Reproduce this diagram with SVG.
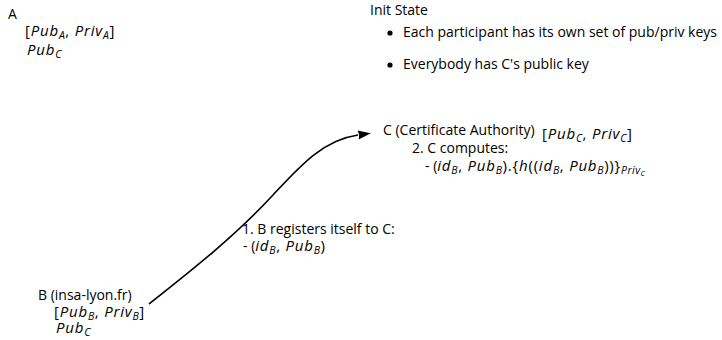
<svg xmlns="http://www.w3.org/2000/svg" width="722" height="340" viewBox="0 0 722 340">
  <style>
    text { font-family: "Open Sans", "DejaVu Sans", sans-serif; font-size: 14px; fill: #000; }
    .m { font-style: italic; font-size: 15px; letter-spacing: 0.8px; }
    .s { font-style: italic; font-size: 10.5px; letter-spacing: 0.5px; }
    .ss { font-style: italic; font-size: 7.5px; }
    .b { font-size: 15px; letter-spacing: 0.8px; }
    .edge { fill: none; stroke: #000; stroke-width: 1.6; }
  </style>
  <defs>
    <marker id="arrow" markerUnits="userSpaceOnUse" markerWidth="14" markerHeight="10" refX="0" refY="4.5" orient="auto">
      <path d="M0,0 L13,4.5 L0,9 Q2,4.5 0,0 z" fill="#000"/>
    </marker>
  </defs>

  <!-- participant A -->
  <g id="node-a">
    <text x="8" y="19">A</text>
    <text x="25" y="36"><tspan class="b">[</tspan><tspan class="m">Pub</tspan><tspan class="s" dy="3">A</tspan><tspan class="b" dy="-3">, </tspan><tspan class="m">Priv</tspan><tspan class="s" dy="3">A</tspan><tspan class="b" dy="-3">]</tspan></text>
    <text x="27" y="55"><tspan class="m">Pub</tspan><tspan class="s" dy="3">C</tspan></text>
  </g>

  <!-- initial state notes -->
  <g id="init-state">
    <text x="370" y="15">Init State</text>
    <circle cx="390" cy="33" r="2.6" fill="#000"/>
    <text x="403" y="37">Each participant has its own set of pub/priv keys</text>
    <circle cx="390" cy="65" r="2.6" fill="#000"/>
    <text x="403" y="69">Everybody has C's public key</text>
  </g>

  <!-- certificate authority C -->
  <g id="node-c">
    <text x="383" y="135">C (Certificate Authority)</text>
    <text x="542" y="139"><tspan class="b">[</tspan><tspan class="m">Pub</tspan><tspan class="s" dy="3">C</tspan><tspan class="b" dy="-3">, </tspan><tspan class="m">Priv</tspan><tspan class="s" dy="3">C</tspan><tspan class="b" dy="-3">]</tspan></text>
    <text x="412" y="153">2. C computes:</text>
    <text x="425" y="171">- (<tspan class="m">id</tspan><tspan class="s" dy="3">B</tspan><tspan class="b" dy="-3">, </tspan><tspan class="m">Pub</tspan><tspan class="s" dy="3">B</tspan><tspan class="b" dy="-3">).{</tspan><tspan class="m">h</tspan><tspan class="b">((</tspan><tspan class="m">id</tspan><tspan class="s" dy="3">B</tspan><tspan class="b" dy="-3">, </tspan><tspan class="m">Pub</tspan><tspan class="s" dy="3">B</tspan><tspan class="b" dy="-3">))}</tspan><tspan class="s" dy="3">Priv</tspan><tspan class="ss" dy="2">C</tspan></text>
  </g>

  <!-- participant B -->
  <g id="node-b">
    <text x="38" y="300">B (insa-lyon.fr)</text>
    <text x="54" y="317"><tspan class="b">[</tspan><tspan class="m">Pub</tspan><tspan class="s" dy="3">B</tspan><tspan class="b" dy="-3">, </tspan><tspan class="m">Priv</tspan><tspan class="s" dy="3">B</tspan><tspan class="b" dy="-3">]</tspan></text>
    <text x="56" y="333"><tspan class="m">Pub</tspan><tspan class="s" dy="3">C</tspan></text>
  </g>

  <!-- message B -> C -->
  <g id="connectors">
    <path class="edge" d="M149,304 C192,270 234,237 273,195 C300,166 323,140 358,135" marker-end="url(#arrow)"/>
    <text x="242" y="234">1. B registers itself to C:</text>
    <text x="243" y="251">- (<tspan class="m">id</tspan><tspan class="s" dy="3">B</tspan><tspan class="b" dy="-3">, </tspan><tspan class="m">Pub</tspan><tspan class="s" dy="3">B</tspan><tspan class="b" dy="-3">)</tspan></text>
  </g>
</svg>
